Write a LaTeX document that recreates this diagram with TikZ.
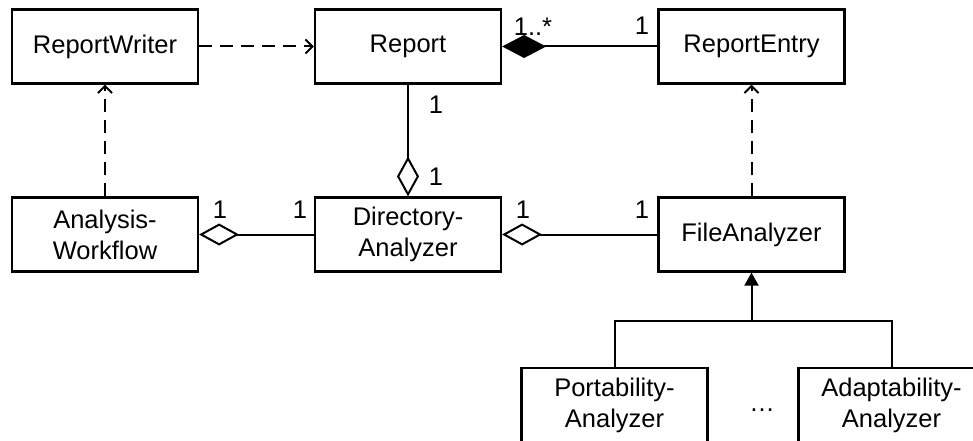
\documentclass[tikz,border=0pt]{standalone}
\usepackage{fontspec}
\setmainfont{Liberation Sans}
\usetikzlibrary{arrows.meta}
\begin{document}
\begin{tikzpicture}[x=1pt,y=-1pt,
  font=\fontsize{25.5}{31}\selectfont,
  cls/.style={draw, line width=2.2pt, minimum width=186pt, minimum height=74pt,
    align=center, inner sep=2pt, fill=white},
  conn/.style={line width=2pt},
  dep/.style={conn, dash pattern=on 13pt off 8pt,
    -{Straight Barb[length=7pt,width=14pt,line width=2pt]}},
  agg/.style={conn, {Diamond[open,length=40pt,width=22pt,line width=2pt]}-},
  comp/.style={conn, {Diamond[length=44pt,width=23pt]}-},
  gen/.style={conn, -{Triangle[length=13pt,width=14pt]}},
  mult/.style={inner sep=0pt}
]
\clip (0,0) rectangle (973,441);
\fill[white] (0,0) rectangle (973,441);

% classes
\node[cls] (rw)  at (105,46.5)   {ReportWriter};
\node[cls] (rep) at (408,46.5)   {Report};
\node[cls] (ent) at (751.5,46.5) {ReportEntry};
\node[cls] (aw)  at (105,234.5)  {Analysis-\\Workflow};
\node[cls] (da)  at (408,234.5)  {Directory-\\Analyzer};
\node[cls] (fa)  at (751.5,234.5){FileAnalyzer};
\node[cls] (pa)  at (614.5,405)  {Portability-\\Analyzer};
\node[cls] (ad)  at (891.5,405)  {Adaptability-\\Analyzer};

% dependencies
\draw[dep] (rw) -- (rep);
\draw[dep] (aw) -- (rw);
\draw[dep] (fa) -- (ent);

% composition and aggregations
\draw[comp] (rep) -- (ent);
\draw[agg] (da) -- (rep);
\draw[agg] (aw) -- (da);
\draw[agg] (da) -- (fa);

% generalization
\coordinate (bus) at (751.5,321);
\draw[conn] (pa.north) |- (ad.north |- bus) -- (ad.north);
\draw[gen] (bus) -- (fa.south);

% multiplicities
\node[mult] (m1) at (533,27)  {1..*};
\node[mult] (m2) at (642,26)  {1};
\node[mult] (m3) at (436,105) {1};
\node[mult] (m4) at (436,177) {1};
\node[mult] (m5) at (220,210) {1};
\node[mult] (m6) at (300,210) {1};
\node[mult] (m7) at (523,210) {1};
\node[mult] (m8) at (642,210) {1};
\node[mult] (dots) at (762,410) {\dots};
\end{tikzpicture}
\end{document}
